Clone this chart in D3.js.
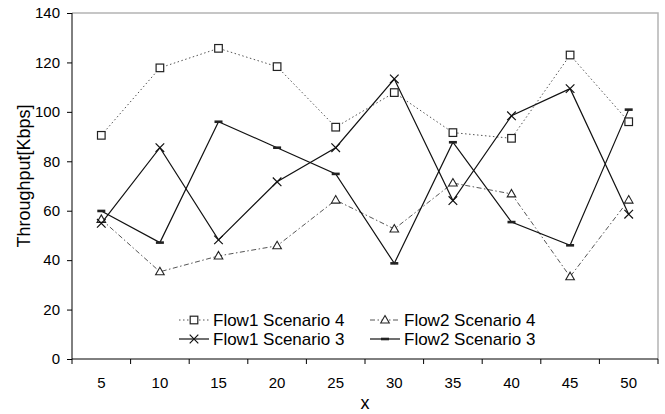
<!DOCTYPE html>
<html>
<head>
<meta charset="utf-8">
<script src="https://cdn.jsdelivr.net/npm/d3@7"></script>
<style>
  html, body { margin: 0; padding: 0; background: #fff; }
  svg { display: block; }
  text { font-family: "Liberation Sans", Arial, sans-serif; fill: #000; }
</style>
</head>
<body>
<svg id="chart" width="665" height="414"></svg>
<script>
const categories = [5, 10, 15, 20, 25, 30, 35, 40, 45, 50];
const flow1Scenario4 = [90.5, 117.8, 125.7, 118.3, 93.8, 107.8, 91.6, 89.3, 123.0, 96.0];
const flow2Scenario4 = [56.5, 35.3, 41.7, 45.8, 64.3, 52.6, 71.2, 66.8, 33.3, 64.3];
const flow1Scenario3 = [54.9, 85.5, 48.2, 71.7, 85.5, 113.3, 64.1, 98.4, 109.4, 58.6];
const flow2Scenario3 = [59.9, 47.1, 96.0, 85.5, 74.9, 38.7, 87.7, 55.4, 46.0, 100.9];
const yTicks = [0, 20, 40, 60, 80, 100, 120, 140];
const seriesNames = ["Flow1 Scenario 4", "Flow2 Scenario 4", "Flow1 Scenario 3", "Flow2 Scenario 3"];

const svg = d3.select("#chart");
const mLeft = 72, mRight = 658, mTop = 13, mBottom = 359;

const x = d3.scaleBand().domain(categories).range([mLeft, mRight]).padding(0);
const y = d3.scaleLinear().domain([0, 140]).range([mBottom, mTop]);

// plot border (gray top/right)
svg.append("path")
  .attr("d", `M${mLeft},${y(140)}H${mRight}V${y(0)}`)
  .attr("fill", "none").attr("stroke", "#b4b4b4").attr("stroke-width", 1.5);

// y axis
const yAxis = svg.append("g").attr("transform", `translate(${mLeft},0)`)
  .call(d3.axisLeft(y).tickValues(yTicks).tickSize(5).tickPadding(7).tickFormat(d3.format("d")));
yAxis.select(".domain").attr("stroke", "#000").attr("d", `M0,${y(140)}V${y(0)}`);
yAxis.selectAll(".tick line").attr("stroke", "#000");
yAxis.selectAll("text").style("font-size", "15px").attr("font-family", null);

// x axis (labels at band centres, ticks at band boundaries)
const xAxis = svg.append("g").attr("transform", `translate(0,${mBottom})`)
  .call(d3.axisBottom(x).tickSize(0).tickPadding(18));
xAxis.select(".domain").attr("stroke", "#000").attr("d", `M${mLeft},0H${mRight}`);
xAxis.selectAll("text").style("font-size", "15px").attr("font-family", null);
const bounds = categories.map(c => x(c)).concat([x(categories[categories.length - 1]) + x.bandwidth()]);
xAxis.selectAll(".btick").data(bounds).enter().append("line")
  .attr("x1", d => d).attr("x2", d => d).attr("y1", 0).attr("y2", 5)
  .attr("stroke", "#000");

// axis titles
svg.append("text").attr("transform", `translate(24,${(mTop + mBottom) / 2 - 10}) rotate(-90)`)
  .attr("text-anchor", "middle").attr("dominant-baseline", "central")
  .style("font-size", "18px").text("Throughput[Kbps]");
svg.append("text").attr("x", (mLeft + mRight) / 2).attr("y", 403)
  .attr("text-anchor", "middle").attr("dominant-baseline", "central")
  .style("font-size", "18px").text("x");

const cx = c => x(c) + x.bandwidth() / 2;

const styles = [
  { values: flow1Scenario4, stroke: "#555", dash: "1.5,2.5", width: 1, marker: "square" },
  { values: flow2Scenario4, stroke: "#555", dash: "5,2.5,1.5,2.5", width: 1, marker: "triangle" },
  { values: flow1Scenario3, stroke: "#111", dash: null, width: 1.2, marker: "cross" },
  { values: flow2Scenario3, stroke: "#111", dash: null, width: 1.2, marker: "dash" }
];

function drawMarker(g, type, px, py) {
  if (type === "square") {
    g.append("rect").attr("x", px - 3.8).attr("y", py - 3.8).attr("width", 7.6).attr("height", 7.6)
      .attr("fill", "#fff").attr("stroke", "#222").attr("stroke-width", 1.2);
  } else if (type === "triangle") {
    g.append("path").attr("d", `M${px},${py - 4.5}L${px + 4.3},${py + 3}L${px - 4.3},${py + 3}Z`)
      .attr("fill", "#fff").attr("stroke", "#222").attr("stroke-width", 1.1);
  } else if (type === "cross") {
    g.append("path").attr("d", `M${px - 4.3},${py - 4.3}L${px + 4.3},${py + 4.3}M${px + 4.3},${py - 4.3}L${px - 4.3},${py + 4.3}`)
      .attr("fill", "none").attr("stroke", "#111").attr("stroke-width", 1.2);
  } else if (type === "dash") {
    g.append("rect").attr("x", px - 4).attr("y", py - 1.3).attr("width", 8).attr("height", 2.6)
      .attr("fill", "#222");
  }
}

styles.forEach(s => {
  const line = d3.line().x((d, i) => cx(categories[i])).y(d => y(d));
  svg.append("path").datum(s.values).attr("d", line)
    .attr("fill", "none").attr("stroke", s.stroke).attr("stroke-width", s.width)
    .attr("stroke-dasharray", s.dash);
});
styles.forEach(s => {
  const g = svg.append("g");
  s.values.forEach((v, i) => drawMarker(g, s.marker, cx(categories[i]), y(v)));
});

// legend
const legendPos = [
  { sx: 179, ty: 320 }, { sx: 370, ty: 320 },
  { sx: 179, ty: 339 }, { sx: 370, ty: 339 }
];
styles.forEach((s, i) => {
  const p = legendPos[i];
  const g = svg.append("g");
  g.append("line").attr("x1", p.sx).attr("x2", p.sx + 30).attr("y1", p.ty).attr("y2", p.ty)
    .attr("stroke", s.stroke).attr("stroke-width", s.width).attr("stroke-dasharray", s.dash);
  drawMarker(g, s.marker, p.sx + 15, p.ty);
  g.append("text").attr("x", p.sx + 34).attr("y", p.ty).attr("dominant-baseline", "central")
    .style("font-size", "17px").text(seriesNames[i]);
});
</script>
</body>
</html>
